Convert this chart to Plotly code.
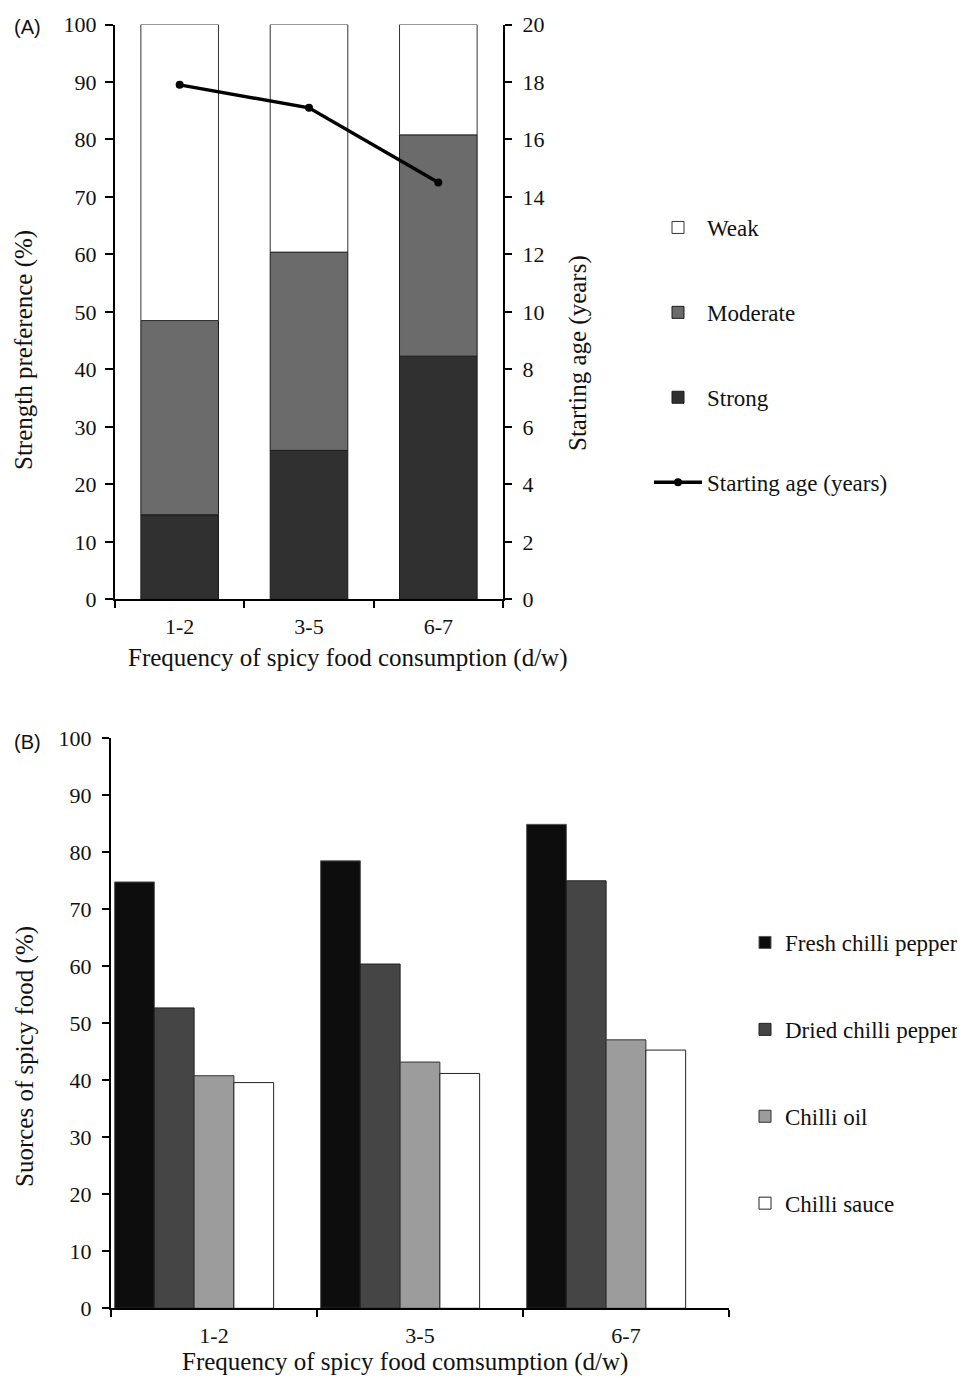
import plotly.graph_objects as go

# ---------------- data ----------------
freq = ["1-2", "3-5", "6-7"]

# Panel A: strength preference (%) and starting age (years)
strong = [14.7, 25.9, 42.3]
moderate = [33.8, 34.5, 38.5]
weak = [51.5, 39.6, 19.2]
start_age = [17.9, 17.1, 14.5]

# Panel B: sources of spicy food (%)
source_names = ["Fresh chilli pepper", "Dried chilli pepper", "Chilli oil", "Chilli sauce"]
fresh = [74.8, 78.5, 84.9]
dried = [52.7, 60.4, 75.0]
oil = [40.8, 43.2, 47.1]
sauce = [39.6, 41.2, 45.3]

# ---------------- layout helpers ----------------
PAGE_W, PAGE_H = 965, 1378
BODY = 8  # default page margin around the figure
W, H = PAGE_W - BODY, PAGE_H - BODY
SERIF = "Liberation Serif"
SANS = "Liberation Sans"
INK = "#111111"


def px(x):
    return (x - BODY) / W


def py(y):
    return 1 - (y - BODY) / H


fig = go.Figure()

# ---- Panel A bars (stacked by explicit base) ----
mod_base = strong
weak_base = [s + m for s, m in zip(strong, moderate)]
fig.add_trace(go.Bar(x=freq, y=strong, name="Strong", width=0.6,
                     marker=dict(color="#303030", line=dict(color="#1a1a1a", width=1)),
                     xaxis="x", yaxis="y", legend="legend", legendgroup="a3", legendrank=3))
fig.add_trace(go.Bar(x=freq, y=moderate, base=mod_base, name="Moderate", width=0.6,
                     marker=dict(color="#6b6b6b", line=dict(color="#1a1a1a", width=1)),
                     xaxis="x", yaxis="y", legend="legend", legendgroup="a2", legendrank=2))
fig.add_trace(go.Bar(x=freq, y=weak, base=weak_base, name="Weak", width=0.6,
                     marker=dict(color="#ffffff", line=dict(color="#333333", width=1)),
                     xaxis="x", yaxis="y", legend="legend", legendgroup="a1", legendrank=1))
fig.add_trace(go.Scatter(x=freq, y=start_age, name="Starting age (years)", mode="lines+markers",
                         line=dict(color="black", width=3.5), marker=dict(color="black", size=8),
                         xaxis="x", yaxis="y2", legend="legend", legendgroup="a4", legendrank=4))

# ---- Panel B grouped bars (5 slots per category, the last one empty) ----
slot_gap = 0.035
slot_w = (1 - slot_gap) / 5
b_series = [fresh, dried, oil, sauce]
b_colors = ["#0d0d0d", "#454545", "#9c9c9c", "#ffffff"]
b_lines = ["#555555", "#222222", "#333333", "#222222"]
for i, (name, vals, col, lc) in enumerate(zip(source_names, b_series, b_colors, b_lines)):
    fig.add_trace(go.Bar(x=freq, y=vals, name=name, width=slot_w,
                         offset=-0.5 + slot_gap / 2 + i * slot_w,
                         marker=dict(color=col, line=dict(color=lc, width=1)),
                         xaxis="x2", yaxis="y3", legend="legend2",
                         legendgroup="b%d" % i, legendrank=i + 1))

axis_common = dict(showline=True, linewidth=2, linecolor="black", showgrid=False, zeroline=False,
                   ticks="outside", tickwidth=2, tickcolor="black", automargin=False,
                   tickfont=dict(family=SERIF, size=22, color=INK))

fig.update_layout(
    template="none",
    width=W, height=H,
    margin=dict(l=0, r=0, t=0, b=0, pad=0),
    paper_bgcolor="white", plot_bgcolor="rgba(0,0,0,0)",
    barmode="overlay",
    showlegend=True,
    xaxis=dict(domain=[px(115), px(503)], anchor="y", type="category", range=[-0.5, 2.5],
               tickson="boundaries", ticklen=7, ticklabelstandoff=6, **axis_common),
    yaxis=dict(domain=[py(599.3), py(24.5)], anchor="x", range=[0, 100], dtick=10,
               ticklen=8, ticklabelstandoff=4, **axis_common),
    yaxis2=dict(overlaying="y", side="right", anchor="x", range=[0, 20], dtick=2,
                ticklen=7, ticklabelstandoff=6, **axis_common),
    xaxis2=dict(domain=[px(111), px(729)], anchor="y3", type="category", range=[-0.5, 2.5],
                tickson="boundaries", ticklen=7, ticklabelstandoff=6, **axis_common),
    yaxis3=dict(domain=[py(1308.3), py(738.3)], anchor="x2", range=[0, 100], dtick=10,
                ticklen=7, ticklabelstandoff=6, **axis_common),
    legend=dict(x=px(649), xanchor="left", y=py(206), yanchor="top", itemwidth=48,
                font=dict(family=SERIF, size=23, color=INK), tracegroupgap=52,
                traceorder="grouped", bgcolor="rgba(0,0,0,0)", borderwidth=0),
    legend2=dict(x=1, xanchor="right", y=py(921), yanchor="top",
                 font=dict(family=SERIF, size=23, color=INK), tracegroupgap=54,
                 traceorder="grouped", bgcolor="rgba(0,0,0,0)", borderwidth=0),
)

title_font = dict(family=SERIF, size=25, color=INK)
annotations = [
    dict(text="(A)", x=px(12), y=py(27), xanchor="left", yanchor="middle",
         font=dict(family=SANS, size=20, color=INK)),
    dict(text="(B)", x=px(12), y=py(742), xanchor="left", yanchor="middle",
         font=dict(family=SANS, size=20, color=INK)),
    dict(text="Strength preference (%)", x=px(24), y=py(350), textangle=-90,
         xanchor="center", yanchor="middle", font=title_font),
    dict(text="Starting age (years)", x=px(578), y=py(353), textangle=-90,
         xanchor="center", yanchor="middle", font=title_font),
    dict(text="Frequency of spicy food consumption (d/w)", x=px(348), y=py(658),
         xanchor="center", yanchor="middle", font=title_font),
    dict(text="Suorces of spicy food (%)", x=px(25), y=py(1057), textangle=-90,
         xanchor="center", yanchor="middle", font=title_font),
    dict(text="Frequency of spicy food comsumption (d/w)", x=px(405), y=py(1362),
         xanchor="center", yanchor="middle", font=title_font),
]
for a in annotations:
    a.update(xref="paper", yref="paper", showarrow=False)
fig.update_layout(annotations=annotations)

fig.write_html("out.html")
